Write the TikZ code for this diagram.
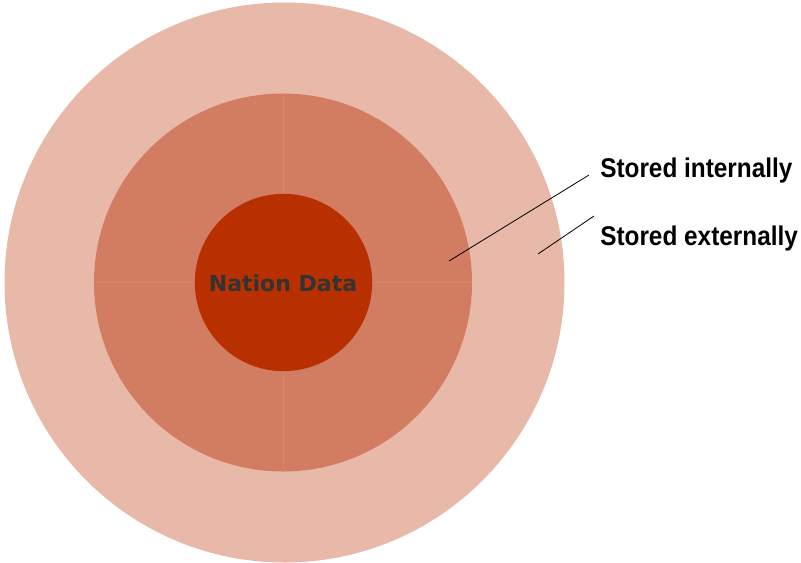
\documentclass[tikz,border=0pt]{standalone}
\usepackage{fontspec}
\usepackage{xcolor}
\usepackage{tikz}
\newfontfamily\labelfont[FakeStretch=0.9]{Liberation Sans}
\newfontfamily\corefont{DejaVu Sans}

\definecolor{outerring}{RGB}{232,185,169}
\definecolor{middlering}{RGB}{210,125,98}
\definecolor{coredisc}{RGB}{184,48,0}
\definecolor{quarterline}{RGB}{215,134,108}
\definecolor{coretext}{RGB}{51,51,51}

\begin{document}
\begin{tikzpicture}[x=0.75pt,y=0.75pt,yscale=-1,xscale=1,
  ring/.style={circle,inner sep=0pt,draw=none},
  tag/.style={anchor=base west,inner sep=0pt,font=\labelfont\bfseries\fontsize{20.3}{24}\selectfont},
  leader/.style={draw=black,line width=0.6pt}]
\useasboundingbox (0,0) rectangle (801,562);

%Shape: Circle [outer]
\node [ring,fill=outerring,minimum size=420pt] (outer) at (284.5,282.5) {};
%Shape: Circle [middle]
\node [ring,fill=middlering,minimum size=283.5pt] (middle) at (283,282.5) {};
%Straight Lines [quarters]
\draw [quarterline,line width=0.6pt] (middle.north) -- (middle.south) ;
\draw [quarterline,line width=0.6pt] (middle.west) -- (middle.east) ;
%Shape: Circle [core]
\node [ring,fill=coredisc,minimum size=133pt] (core) at (283.5,282.5) {};

% Text Node
\node [inner sep=0.75pt,text=coretext,font=\corefont\bfseries\fontsize{16.5}{20}\selectfont] (nation) at (283,283) {Nation Data};
% Text Node
\node [tag] (internal) at (600,177) {Stored internally};
% Text Node
\node [tag] (external) at (600,245) {Stored externally};

%Straight Lines [leaders]
\coordinate (inpt) at (449,261);
\coordinate (expt) at (538,254);
\coordinate (inend) at (589,175);
\coordinate (exend) at (594,216);
\draw [leader] (inpt) -- (inend) ;
\draw [leader] (expt) -- (exend) ;
\end{tikzpicture}
\end{document}
